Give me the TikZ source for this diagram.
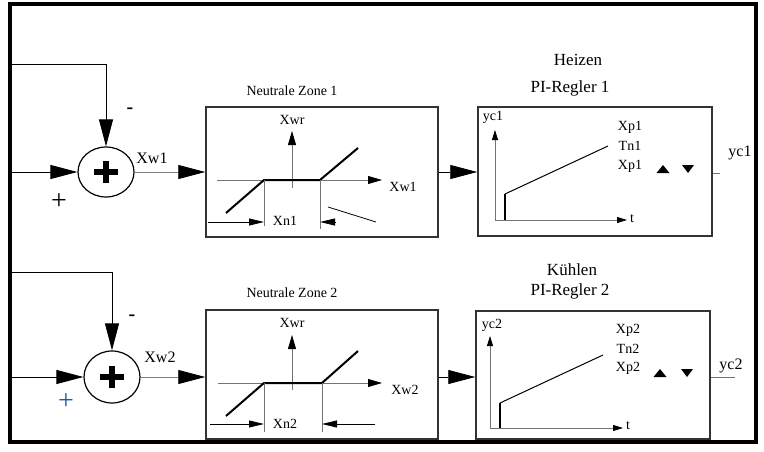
\documentclass[tikz,border=0pt]{standalone}
\usepackage{fontspec}
\setmainfont{Liberation Serif}
\usetikzlibrary{arrows.meta,shapes.geometric,positioning}

\begin{document}
\begin{tikzpicture}[x=1pt,y=-1pt,
    sum/.style={ellipse,draw,line width=1.2pt,minimum width=56pt,minimum height=50pt,inner sep=0pt},
    blk/.style={draw=black!80,line width=1.5pt,inner sep=0pt},
    big/.style={line width=0.8pt,-{Triangle[length=27pt,width=14pt,color=black]}},
    gl/.style={draw=black!55,line width=0.8pt},
    ax/.style={gl,-{Triangle[length=14pt,width=8pt,color=black]}},
    axs/.style={gl,-{Triangle[length=10pt,width=6pt,color=black]}},
    dim/.style={line width=0.8pt,-{Triangle[length=15pt,width=7pt]}},
    kl/.style={line width=2pt},
    f14/.style={font=\fontsize{14}{16}\selectfont,inner sep=0pt},
    f16/.style={font=\fontsize{16}{18}\selectfont,inner sep=0pt},
    f17/.style={font=\fontsize{17}{19}\selectfont,inner sep=0pt},
    minus/.style={font=\fontsize{20}{20}\selectfont\bfseries,inner sep=0pt},
    plus/.style={font=\fontsize{28}{28}\selectfont,inner sep=0pt}]
\useasboundingbox (0,0) rectangle (764,452);
\draw[line width=4pt] (9.5,3.7) rectangle (755.8,442.3);

\node[sum] (s1) at (106,172) {};
\draw[line width=5.5pt] ([xshift=-12pt]s1.center) -- ([xshift=12pt]s1.center)
    ([yshift=-11pt]s1.center) -- ([yshift=11pt]s1.center);
\node[blk,minimum width=232pt,minimum height=130pt] (nz1) at (322,172) {};
\node[blk,minimum width=234pt,minimum height=129pt] (pi1) at (595,171.5) {};
\coordinate (f1) at (9.5,64);
\coordinate (i1) at (9.5,172);
\coordinate (o1) at (720,173);
\draw[big] (f1) -| (s1.north);
\draw[big] (i1) -- (s1.west);
\draw[big,draw=black!50] (s1.east) -- (nz1.west);
\draw[big] (nz1.east) -- (nz1.east -| pi1.west);
\draw[gl] (pi1.east |- o1) -- (o1);
\node[minus] (m1) at (130,111) {-};
\node[plus] (p1) at (59,202) {+};
\node[f16] (xw1) at (152,158) {Xw1};
\node[f14] (nzt1) at (292,91) {Neutrale Zone 1};
\node[f17] (hz) at (578,60) {Heizen};
\node[f17] (pit1) at (570,88) {PI-Regler 1};
\node[f16] (yc1) at (740,153) {yc1};

\draw[ax] (292,188) -- (292,131);
\draw[ax] (217,180) -- (382,180);
\draw[kl] (226,213) -- (264,180) -- (320,180) -- (358,148);
\draw[gl] (264,180) -- (264,226) (320,180) -- (320,229);
\draw[dim] (208,222) -- (264,222);
\draw[dim] (336,222) -- (320,222);
\draw[line width=0.8pt] (328,207) -- (376,222);
\node[f14] (xwr1) at (292,120) {Xwr};
\node[f14] (xwa1) at (403,187) {Xw1};
\node[f14] (xn1) at (285,221) {Xn1};

\draw[axs] (495,220) -- (495,130);
\draw[axs] (495,220) -- (627,220);
\draw[line width=1.5pt] (505,220) -- (505,194);
\draw[line width=1pt] (505,194) -- (608,146);
\node[f14] (yca1) at (493,117) {yc1};
\node[f14] (t1) at (632,219) {t};
\node[f14] (xp1) at (630,127) {Xp1};
\node[f14] (tn1) at (630,146) {Tn1};
\node[f14] (xq1) at (630,166) {Xp1};

\node[sum,minimum height=52pt] (s2) at (112,377) {};
\draw[line width=5.5pt] ([xshift=-12pt]s2.center) -- ([xshift=12pt]s2.center)
    ([yshift=-11pt]s2.center) -- ([yshift=11pt]s2.center);
\node[blk,minimum width=232pt,minimum height=129pt] (nz2) at (322,374.5) {};
\node[blk,minimum width=234pt,minimum height=128pt] (pi2) at (593,375) {};
\coordinate (f2) at (9.5,272);
\coordinate (i2) at (9.5,377);
\coordinate (o2) at (735,377);
\draw[big] (f2) -| (s2.north);
\draw[big] (i2) -- (s2.west);
\draw[big,draw=black!50] (s2.east) -- (s2.east -| nz2.west);
\draw[big] (nz2.east |- s2) -- (s2 -| pi2.west);
\draw[gl] (pi2.east |- o2) -- (o2);
\node[minus] (m2) at (132,318) {-};
\node[plus,text={rgb,255:red,30;green,90;blue,160}] (p2) at (66,402) {+};
\node[f16] (xw2) at (160,357) {Xw2};
\node[f14] (nzt2) at (292,293) {Neutrale Zone 2};
\node[f17] (kl) at (572,270) {Kühlen};
\node[f17] (pit2) at (570,291) {PI-Regler 2};
\node[f16] (yc2) at (731,366) {yc2};

\draw[ax] (292,390) -- (292,335);
\draw[ax] (218,383) -- (382,383);
\draw[kl] (226,416) -- (264,383) -- (322,383) -- (358,351);
\draw[gl] (264,383) -- (264,432) (322,383) -- (322,432);
\draw[dim] (210,424) -- (264,424);
\draw[dim] (375,424) -- (322,424);
\node[f14] (xwr2) at (292,323) {Xwr};
\node[f14] (xwa2) at (405,390) {Xw2};
\node[f14] (xn2) at (285,424) {Xn2};

\draw[axs] (490,428) -- (490,336);
\draw[axs] (490,428) -- (623,428);
\draw[line width=1.5pt] (500,428) -- (500,403);
\draw[line width=1pt] (500,403) -- (603,355);
\node[f14] (yca2) at (492,325) {yc2};
\node[f14] (t2) at (628,426) {t};
\node[f14] (xp2) at (628,330) {Xp2};
\node[f14] (tn2) at (628,349) {Tn2};
\node[f14] (xq2) at (628,368) {Xp2};

\foreach \x/\y in {663/169,660/373}
  \fill (\x-6.5,\y+4) -- (\x+6.5,\y+4) -- (\x,\y-4) -- cycle;
\foreach \x/\y in {688/169,687/373}
  \fill (\x-6,\y-4) -- (\x+6,\y-4) -- (\x,\y+4) -- cycle;
\end{tikzpicture}
\end{document}
